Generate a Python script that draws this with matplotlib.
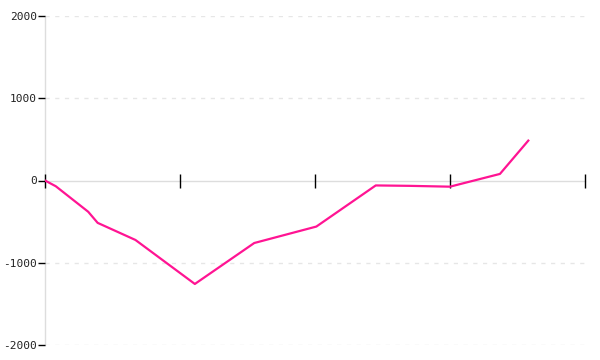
import matplotlib
matplotlib.use("Agg")
import matplotlib.pyplot as plt

# data (x in axis units 0..40, ticks every 10)
x_vals = [0.0, 0.8, 3.2, 3.9, 6.7, 11.1, 15.5, 20.1, 24.5, 27.0, 30.0, 33.7, 35.8]
y_vals = [0, -70, -380, -515, -723, -1258, -760, -560, -60, -65, -75, 80, 485]
x_ticks = [0, 10, 20, 30, 40]
y_ticks = [-2000, -1000, 0, 1000, 2000]
y_labels = ["-2000", "-1000", "0", "1000", "2000"]

fig = plt.figure(figsize=(6, 3.6), dpi=100)
ax = fig.add_axes([45/600, 1-345/360, 540/600, 329/360])
ax.set_xlim(0, 40)
ax.set_ylim(-2000, 2000)

for yv in [-2000, -1000, 1000, 2000]:
    ax.axhline(yv, color="#e6e6e6", lw=1, ls=(0, (3, 4)), zorder=0)

ax.plot(x_vals, y_vals, color="#ff1493", lw=1.6, zorder=3)

for s in ["top", "right"]:
    ax.spines[s].set_visible(False)
ax.spines["left"].set_color("#dddddd")
ax.spines["left"].set_linewidth(1)
ax.spines["left"].set_zorder(0.5)
ax.spines["bottom"].set_position(("data", 0))
ax.spines["bottom"].set_color("#dddddd")
ax.spines["bottom"].set_linewidth(1)
ax.spines["bottom"].set_zorder(0.5)

ax.set_xticks(x_ticks)
ax.set_xticklabels([])
ax.tick_params(axis="x", direction="inout", length=10, width=1, color="black")
ax.set_yticks(y_ticks)
ax.set_yticklabels(y_labels, fontsize=8, color="#222222", family="DejaVu Sans Mono")
ax.tick_params(axis="y", direction="out", length=5, width=1, color="black", pad=1)
for t in ax.xaxis.get_major_ticks():
    t.tick1line.set_clip_on(False)

fig.savefig("out.png", dpi=100)
